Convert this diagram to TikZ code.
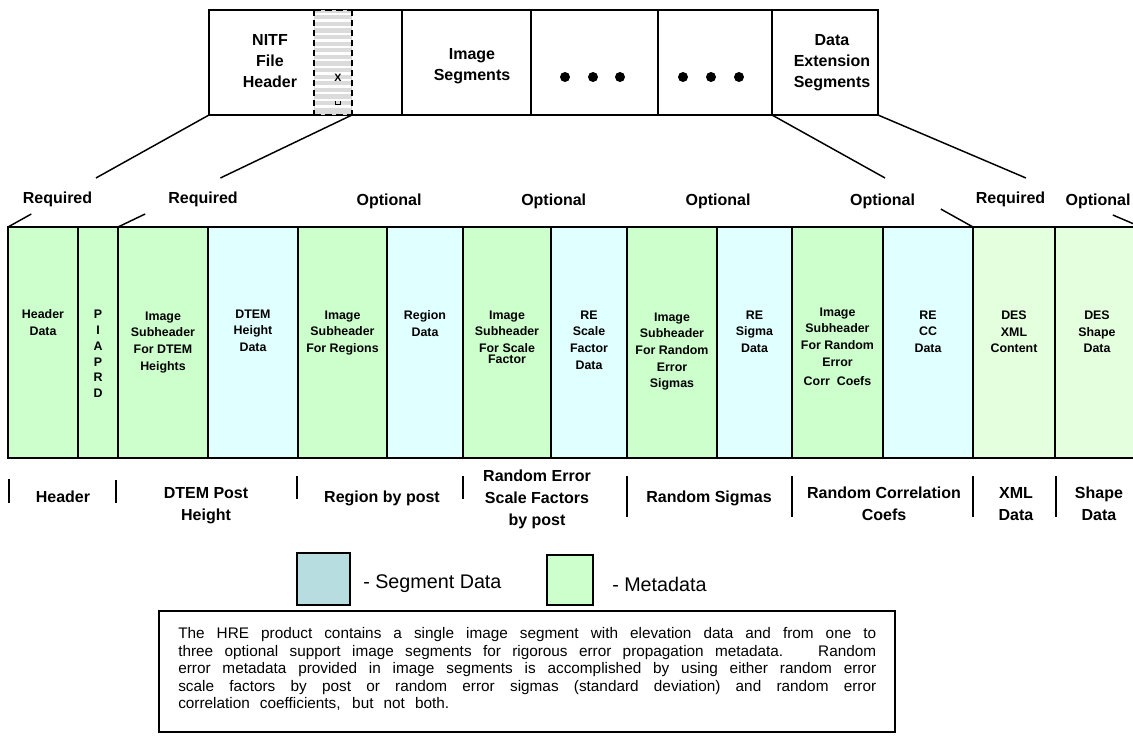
\documentclass[tikz,border=0pt]{standalone}
\usepackage{fontspec}
\setmainfont{Liberation Sans}
\usetikzlibrary{calc}
\newlength\pxu \setlength\pxu{0.75pt}
\definecolor{meta}{HTML}{CCFFCC}
\definecolor{segd}{HTML}{E0FFFF}
\definecolor{desg}{HTML}{E4FFDE}
\definecolor{legseg}{HTML}{B7DDE0}
\tikzset{
  box/.style={draw, line width=1.1pt, inner sep=0pt, outer sep=0pt, anchor=north west},
  topbox/.style={box, minimum height=105\pxu},
  col/.style={box, minimum height=231\pxu},
  toptext/.style={font=\fontsize{12}{15.7}\selectfont\bfseries, align=center, inner sep=0pt},
  coltext/.style={font=\fontsize{9.3}{12.4}\selectfont\bfseries, align=center, inner sep=0pt, anchor=north},
  hdr/.style={font=\fontsize{12}{15}\selectfont\bfseries, inner sep=0pt, anchor=base},
  botlab/.style={font=\fontsize{12}{16.3}\selectfont\bfseries, align=center, inner sep=0pt, anchor=north},
  conn/.style={line width=1.1pt},
  sepbar/.style={line width=1.2pt},
  legbox/.style={box, line width=1.3pt},
  legtext/.style={font=\fontsize{14.8}{18}\selectfont, anchor=west, inner sep=0pt},
  body/.style={font=\fontsize{11.5}{13.1}\selectfont, align=left, inner sep=0pt, anchor=north west},
}
\begin{document}
\begin{tikzpicture}[x=0.75pt,y=-0.75pt]
\useasboundingbox (0,0) rectangle (1133,743);
\fill[white] (0,0) rectangle (1133,743);

% ---------- top file structure ----------
\node[topbox, minimum width=193\pxu] (nitf) at (209,10) {};
\node[topbox, minimum width=129\pxu] (imgseg) at (402,10) {};
\node[topbox, minimum width=127\pxu] (dotsa) at (531,10) {};
\node[topbox, minimum width=114\pxu] (dotsb) at (658,10) {};
\node[topbox, minimum width=106\pxu] (des) at (772,10) {};

% hatched strip
\node[anchor=north west, minimum width=38\pxu, minimum height=105\pxu, inner sep=0pt, outer sep=0pt, fill=gray!28] (strip) at (314,10) {};
\foreach \yy in {14,20.6,...,112} \draw[white, line width=2.4\pxu] (315,\yy) -- (351,\yy);
\draw[line width=1.1pt, dash pattern=on 6\pxu off 4\pxu] (strip.north west) -- (strip.south west);
\draw[line width=1.1pt, dash pattern=on 6\pxu off 4\pxu] (strip.north east) -- (strip.south east);
\draw[line width=1.5pt, dash pattern=on 7\pxu off 4\pxu] (strip.north west) -- (strip.north east);
\draw[line width=1.5pt, dash pattern=on 7\pxu off 4\pxu] (strip.south west) -- (strip.south east);
\node[font=\fontsize{8}{9}\selectfont\bfseries, inner sep=0pt] (xmark) at (338,78) {X};
\draw[line width=0.6pt] (335.5,101) -- (335.5,104.5) -- (340,104.5) -- (340,101);

\node[toptext] (tnitf) at (270,61) {NITF\\File\\Header};
\node[toptext] (timg) at (472,66.5) {Image\\Segments};
\node[toptext] (tdes) at (832,62.5) {Data\\Extension\\Segments};

\foreach \xx in {565,593,620,683,711,739} \fill (\xx,77) circle[radius=5\pxu];

% ---------- main row ----------
\node[col, fill=meta, minimum width=70\pxu] (c1) at (8,227) {};
\node[col, fill=meta, minimum width=40\pxu] (c2) at (78,227) {};
\node[col, fill=meta, minimum width=90\pxu] (c3) at (118,227) {};
\node[col, fill=segd, minimum width=90\pxu] (c4) at (208,227) {};
\node[col, fill=meta, minimum width=89\pxu] (c5) at (298,227) {};
\node[col, fill=segd, minimum width=76\pxu] (c6) at (387,227) {};
\node[col, fill=meta, minimum width=88\pxu] (c7) at (463,227) {};
\node[col, fill=segd, minimum width=76\pxu] (c8) at (551,227) {};
\node[col, fill=meta, minimum width=90\pxu] (c9) at (627,227) {};
\node[col, fill=segd, minimum width=75\pxu] (c10) at (717,227) {};
\node[col, fill=meta, minimum width=91\pxu] (c11) at (792,227) {};
\node[col, fill=segd, minimum width=90\pxu] (c12) at (883,227) {};
\node[col, fill=desg, minimum width=82\pxu] (c13) at (973,227) {};
\node[col, fill=desg, minimum width=86\pxu] (c14) at (1055,227) {};

\node[coltext] (t1) at (43,309.6) {Header\\Data};
\node[coltext, font=\fontsize{9.3}{11.9}\selectfont\bfseries] (t2) at (98,309.6) {P\\I\\A\\P\\R\\D};
\node[coltext] (t3) at (163,311.6) {Image\\Subheader\\For DTEM\\Heights};
\node[coltext] (t4) at (253,309.6) {DTEM\\Height\\Data};
\node[coltext] (t5) at (342.5,310.6) {Image\\Subheader\\For Regions};
\node[coltext] (t6) at (425,310.6) {Region\\Data};
\node[coltext] (t7) at (507,310.6) {Image\\Subheader\\For Scale\\[-4.3pt]Factor};
\node[coltext] (t8) at (589,310.6) {RE\\Scale\\Factor\\Data};
\node[coltext] (t9) at (672,312.6) {Image\\Subheader\\For Random\\Error\\Sigmas};
\node[coltext] (t10) at (754.5,310.6) {RE\\Sigma\\Data};
\node[coltext] (t11) at (837.5,307.6) {Image\\Subheader\\For Random\\Error\\[2pt]Corr\ \ Coefs};
\node[coltext] (t12) at (928,310.6) {RE\\CC\\Data};
\node[coltext] (t13) at (1014,310.6) {DES\\XML\\Content};
\node[coltext] (t14) at (1097,310.6) {DES\\Shape\\Data};

% ---------- connectors ----------
\draw[conn] (nitf.south west) -- ($(nitf.south west)!0.5625!(c1.north west)$);
\draw[conn] ($(nitf.south west)!0.884!(c1.north west)$) -- (c1.north west);
\draw[conn] (strip.south east) -- ($(strip.south east)!0.5625!(c3.north west)$);
\draw[conn] ($(strip.south east)!0.884!(c3.north west)$) -- (c3.north west);
\draw[conn] (des.south west) -- ($(des.south west)!0.5625!(c13.north west)$);
\draw[conn] ($(des.south west)!0.84!(c13.north west)$) -- (c13.north west);
\draw[conn] (des.south east) -- ($(des.south east)!0.5625!(c14.north east)$);
\draw[conn] ($(des.south east)!0.893!(c14.north east)$) -- (c14.north east);

% ---------- required / optional ----------
\node[hdr] (ra) at (57.5,203) {Required};
\node[hdr] (rb) at (203,203) {Required};
\node[hdr] (oa) at (389,205) {Optional};
\node[hdr] (ob) at (553.7,205) {Optional};
\node[hdr] (oc) at (718,205) {Optional};
\node[hdr] (od) at (882.5,205) {Optional};
\node[hdr] (rc) at (1010.5,203) {Required};
\node[hdr] (oe) at (1098,205) {Optional};

% ---------- bottom groups ----------
\draw[sepbar] (9,479) -- (9,503);
\draw[sepbar] (116,480) -- (116,503);
\draw[sepbar] (297,476) -- (297,499);
\draw[sepbar] (463,476) -- (463,499);
\draw[sepbar] (627,476) -- (627,517);
\draw[sepbar] (792,476) -- (792,517);
\draw[sepbar] (973,476) -- (973,517);
\draw[sepbar] (1056,476) -- (1056,517);

\node[botlab] (ba) at (63,491) {Header};
\node[botlab] (bb) at (206,487) {DTEM Post\\Height};
\node[botlab] (bc) at (382,491) {Region by post};
\node[botlab] (bd) at (537,470) {Random Error\\Scale Factors\\by post};
\node[botlab] (be) at (709,491) {Random Sigmas};
\node[botlab] (bf) at (884,487) {Random Correlation\\Coefs};
\node[botlab] (bg) at (1016,487) {XML\\Data};
\node[botlab] (bh) at (1099,487) {Shape\\Data};

% ---------- legend ----------
\node[legbox, fill=legseg, minimum width=53\pxu, minimum height=52\pxu] (lseg) at (297,553) {};
\node[legtext] (lsegt) at (363,584) {- Segment Data};
\node[legbox, fill=meta, minimum width=46\pxu, minimum height=50\pxu] (lmeta) at (547,555) {};
\node[legtext] (lmetat) at (612,584) {- Metadata};

% ---------- description ----------
\node[box, minimum width=736\pxu, minimum height=121\pxu] (descbox) at (159,611) {};
\node[body] (desc) at (178,627.5) {%
\makebox[698\pxu][s]{The HRE product contains a single image segment with elevation data and from one to}\\
\makebox[698\pxu][s]{three optional support image segments for rigorous error propagation metadata.\hspace{8\pxu} Random}\\
\makebox[698\pxu][s]{error metadata provided in image segments is accomplished by using either random error}\\
\makebox[698\pxu][s]{scale factors by post or random error sigmas (standard deviation) and random error}\\
\makebox[271\pxu][s]{correlation coefficients, but not both.}};
\end{tikzpicture}
\end{document}
